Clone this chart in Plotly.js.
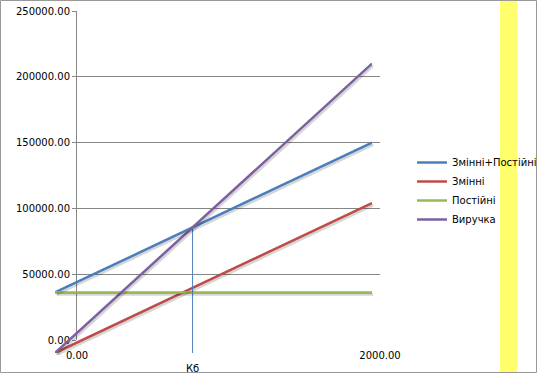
<!DOCTYPE html>
<html>
<head>
<meta charset="utf-8">
<script src="https://cdn.plot.ly/plotly-3.0.1.min.js"></script>
<style>
html,body{margin:0;padding:0;background:#fff;}
#chart{width:537px;height:373px;}
</style>
</head>
<body>
<div id="chart"></div>
<script>
// ---- data ----
const volume = [0, 2000];                 // output, units
const fixedCosts = [46000, 46000];        // Постійні
const variableCosts = [0, 114000];        // Змінні
const totalCosts = [46000, 160000];       // Змінні+Постійні
const revenue = [0, 220000];              // Виручка
const seriesNames = ['Змінні+Постійні', 'Змінні', 'Постійні', 'Виручка'];
const yTickVals = [0, 50000, 100000, 150000, 200000, 250000];
const yGridVals = [50000, 100000, 150000, 200000];
const xTickVals = [0, 2000];
const breakEvenLabel = 'Кб';

// break-even point computed from the series
const slopeRev = (revenue[1] - revenue[0]) / (volume[1] - volume[0]);
const slopeTot = (totalCosts[1] - totalCosts[0]) / (volume[1] - volume[0]);
const beX = (totalCosts[0] - revenue[0]) / (slopeRev - slopeTot);
const beY = revenue[0] + slopeRev * beX;

const colors = ['#4a7ebb', '#be4b48', '#98b954', '#7d60a0'];
const font = {family: 'DejaVu Sans, Verdana, sans-serif', size: 10, color: '#000'};

const series = [totalCosts, variableCosts, fixedCosts, revenue];
const traces = [];
// shadows (same data, axes shifted slightly)
series.forEach(s => traces.push({type: 'scatter', mode: 'lines', x: volume, y: s, xaxis: 'x4', yaxis: 'y4',
  showlegend: false, hoverinfo: 'skip', line: {color: 'rgba(0,0,0,0.16)', width: 2.5}}));
// anchor traces for label / grid axes
traces.push({type: 'scatter', mode: 'lines', x: xTickVals, y: [null, null], xaxis: 'x', yaxis: 'y', showlegend: false, hoverinfo: 'skip'});
traces.push({type: 'scatter', mode: 'lines', x: xTickVals, y: [null, null], xaxis: 'x', yaxis: 'y3', showlegend: false, hoverinfo: 'skip'});
// series
series.forEach((s, i) => traces.push({type: 'scatter', mode: 'lines', x: volume, y: s, name: seriesNames[i],
  xaxis: 'x2', yaxis: 'y2', hoverinfo: 'skip', line: {color: colors[i], width: 2.5}}));
// break-even drop line
traces.push({type: 'scatter', mode: 'lines', x: [beX, beX], y: [0, beY], xaxis: 'x2', yaxis: 'y2',
  showlegend: false, hoverinfo: 'skip', line: {color: '#4f81bd', width: 1}});

const W = 537, H = 373, ml = 55, mr = 157, mt = 8, mb = 8;
const pw = W - ml - mr, ph = H - mt - mb;
const px = v => (v - ml) / pw;
const py = v => (H - mb - v) / ph;

const layout = {
  width: W, height: H,
  margin: {l: ml, r: mr, t: mt, b: mb, pad: 0, autoexpand: false},
  paper_bgcolor: '#fff', plot_bgcolor: 'rgba(0,0,0,0)',
  font: font,
  showlegend: true,
  legend: {x: px(412), y: py(148), xanchor: 'left', yanchor: 'top', font: font,
           bgcolor: 'rgba(0,0,0,0)', borderwidth: 0, itemwidth: 30},
  xaxis: {domain: [px(77), 1], range: [0, 2000], tickvals: xTickVals, tickformat: '.2f', anchor: 'y',
          showgrid: false, zeroline: false, showline: false, ticks: '', ticklabelstandoff: 8,
          fixedrange: true},
  yaxis: {domain: [py(340), py(11)], range: [0, 250000], tickvals: yTickVals, tickformat: '.2f', anchor: 'x',
          showgrid: false, zeroline: false,
          showline: true, linecolor: '#868686', linewidth: 1,
          ticks: 'outside', ticklen: 4, tickcolor: '#868686', fixedrange: true},
  yaxis3: {domain: [py(340), py(11)], range: [0, 250000], tickvals: yGridVals, anchor: 'x',
           showgrid: true, gridcolor: '#868686', gridwidth: 1, zeroline: false, showline: false,
           showticklabels: false, ticks: '', fixedrange: true},
  xaxis2: {domain: [px(55), px(372)], range: [0, 2000], anchor: 'y2', visible: false, fixedrange: true},
  yaxis2: {domain: [py(353), py(11)], range: [0, 260000], anchor: 'x2', visible: false, fixedrange: true},
  xaxis4: {domain: [px(56.5), px(373.5)], range: [0, 2000], anchor: 'y4', visible: false, fixedrange: true},
  yaxis4: {domain: [py(355), py(13)], range: [0, 260000], anchor: 'x4', visible: false, fixedrange: true},
  shapes: [
    {type: 'rect', xref: 'paper', yref: 'paper', x0: px(500), x1: px(517), y0: py(373), y1: py(0),
     fillcolor: '#ffff6e', line: {width: 0}, layer: 'below'},
    {type: 'rect', xref: 'paper', yref: 'paper', x0: px(0.5), x1: px(536.5), y0: py(372.5), y1: py(0.5),
     line: {color: '#999', width: 1}, fillcolor: 'rgba(0,0,0,0)', layer: 'above'}
  ],
  annotations: [
    {xref: 'x2', yref: 'paper', x: beX, y: py(368), text: breakEvenLabel, showarrow: false,
     font: font, xanchor: 'center', yanchor: 'middle'}
  ]
};

Plotly.newPlot('chart', traces, layout, {staticPlot: true, displayModeBar: false});
</script>
</body>
</html>
